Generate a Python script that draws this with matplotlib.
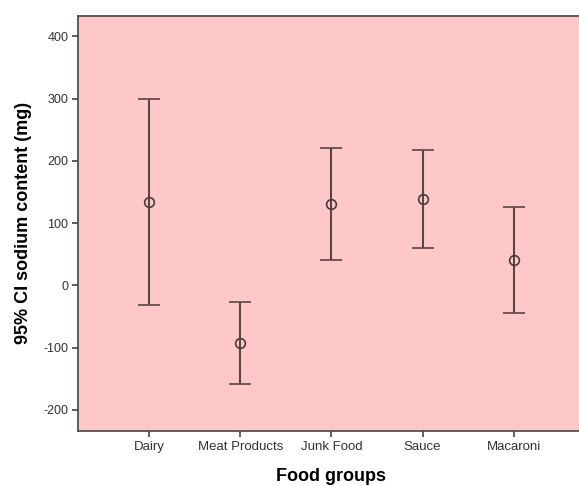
import matplotlib
matplotlib.use("Agg")
import matplotlib.pyplot as plt
import numpy as np

plt.rcParams['font.family'] = ['Liberation Sans', 'DejaVu Sans']

categories = ["Dairy", "Meat Products", "Junk Food", "Sauce", "Macaroni"]
means = [134, -93, 131, 138, 40]
lower = [-32, -158, 41, 60, -45]
upper = [300, -27, 220, 217, 125]
yticks = [-200, -100, 0, 100, 200, 300, 400]

fig = plt.figure(figsize=(5.79, 4.86), dpi=100)
ax = fig.add_axes([78/579, 1-431/486, (579-78)/579 + 0.01, (431-15.7)/486])
ax.set_facecolor('#FFC8C8')

x = np.arange(len(categories))
m = np.array(means); lo = np.array(lower); hi = np.array(upper)
ax.errorbar(x, m, yerr=[m - lo, hi - m], fmt='o', mfc='none', mec='#4a3a3a',
            ms=7, mew=1.2, ecolor='#5a4444', elinewidth=1.5, capsize=8, capthick=1.5)

ax.set_xlim(-0.78, 4.78)
ax.set_ylim(-234, 433)
ax.set_xticks(x)
ax.set_xticklabels(categories, fontsize=9.5, color='#333333')
ax.set_yticks(yticks)
ax.set_yticklabels([str(v) for v in yticks], fontsize=9, color='#333333')
ax.tick_params(axis='both', length=4, width=1.2, color='#444444', pad=3)
for s in ax.spines.values():
    s.set_color('#444444')
    s.set_linewidth(1.2)

ax.set_ylabel("95% CI sodium content (mg)", fontsize=13, fontweight='bold', labelpad=8)
ax.set_xlabel("Food groups", fontsize=13, fontweight='bold', labelpad=11)

fig.savefig("out.png", dpi=100, facecolor='white')
